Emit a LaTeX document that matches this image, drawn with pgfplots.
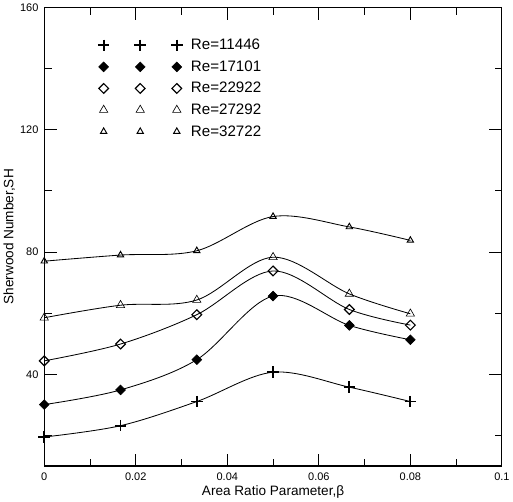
\documentclass[border=0pt]{standalone}
\usepackage{fontspec}
\setmainfont{Liberation Sans}
\usepackage{pgfplots}
\pgfplotsset{compat=1.18}
\begin{document}
\begin{tikzpicture}[x=1pt,y=1pt]
\begin{axis}[
  scale only axis,
  width=438pt, height=439pt,
  xmin=0, xmax=0.1, ymin=10, ymax=160,
  xtick={0,0.02,0.04,0.06,0.08,0.1},
  xticklabels={0,0.02,0.04,0.06,0.08,0.1},
  minor xtick={0.01,0.03,0.05,0.07,0.09},
  ytick={40,80,120,160},
  minor ytick={20,60,100,140},
  tick align=inside,
  major tick length=12pt, minor tick length=7pt,
  tick style={black, line width=0.8pt},
  axis line style={line width=1.1pt},
  /pgf/number format/assume math mode=true,
  tick label style={font=\fontsize{10.5}{12}\selectfont, color=black},
  xticklabel style={yshift=-3pt},
  yticklabel style={xshift=-2pt},
  xlabel={Area Ratio Parameter,β},
  ylabel={Sherwood Number,SH},
  label style={font=\fontsize{13}{15}\selectfont},
  xlabel style={yshift=2pt},
  ylabel style={yshift=-2pt},
  legend style={draw=none, fill=none, at={(0.11,0.94)}, anchor=north west,
    font=\fontsize{14.5}{16}\selectfont, row sep=5pt},
  legend cell align=left,
  legend image code/.code={\draw[#1, only marks] plot coordinates {(0pt,0pt)(35pt,0pt)(70pt,0pt)};},
]
\addplot[black, line width=0.8pt, smooth, tension=0.55, mark=+, mark size=5.5pt, mark options={line width=1.8pt}] coordinates {
 (0,19.5) (0.016667,23.2) (0.033333,31.1) (0.05,40.7) (0.066667,35.8) (0.08,31.1)};
\addlegendentry{\hspace{6pt}Re=11446}
\addplot[black, line width=0.8pt, smooth, tension=0.55, mark=square*, mark size=3.3pt, mark options={fill=black, line width=0.6pt, rotate=45}] coordinates {
 (0,30.1) (0.016667,34.9) (0.033333,44.8) (0.05,65.6) (0.066667,56.0) (0.08,51.3)};
\addlegendentry{\hspace{6pt}Re=17101}
\addplot[black, line width=0.8pt, smooth, tension=0.55, mark=square, mark size=3.3pt, mark options={fill=white, line width=1.1pt, rotate=45}] coordinates {
 (0,44.4) (0.016667,49.9) (0.033333,59.5) (0.05,73.8) (0.066667,61.2) (0.08,56.1)};
\addlegendentry{\hspace{6pt}Re=22922}
\addplot[black, line width=0.8pt, smooth, tension=0.55, mark=triangle, mark size=4.6pt, mark options={fill=white, line width=0.6pt}] coordinates {
 (0,58.5) (0.016667,62.6) (0.033333,64.3) (0.05,78.3) (0.066667,66.3) (0.08,59.8)};
\addlegendentry{\hspace{6pt}Re=27292}
\addplot[black, line width=0.8pt, smooth, tension=0.55, mark=triangle, mark size=3.5pt, mark options={fill=white, line width=0.9pt}] coordinates {
 (0,77.0) (0.016667,79.0) (0.033333,80.4) (0.05,91.6) (0.066667,88.2) (0.08,83.8)};
\addlegendentry{\hspace{6pt}Re=32722}
\end{axis}
\end{tikzpicture}
\end{document}
